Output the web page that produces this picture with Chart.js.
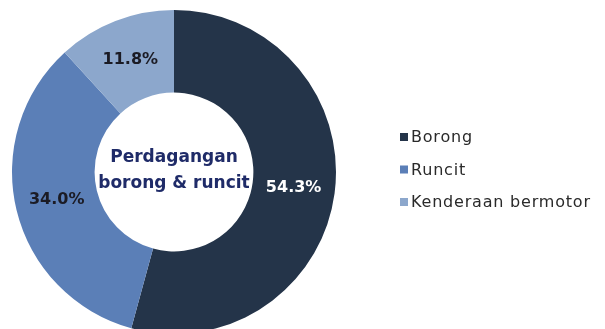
<!DOCTYPE html>
<html>
<head>
<meta charset="utf-8">
<script src="https://cdn.jsdelivr.net/npm/chart.js@4/dist/chart.umd.min.js"></script>
<style>
  html, body { margin: 0; padding: 0; background: #fff; overflow: hidden; }
  #wrap { width: 605px; height: 345px; position: relative; }
</style>
</head>
<body>
<div id="wrap"><canvas id="sectorChart"></canvas></div>
<script>
// Share of wholesale & retail trade by sub-sector (%)
const sectors = ['Borong', 'Runcit', 'Kenderaan bermotor'];
const shares = [54.3, 34.0, 11.8];
const sectorColors = ['#243449', '#5b7fb7', '#8ca7cc'];
const labelColors = ['#ffffff', '#1b1b24', '#1b1b24'];
const centerLines = ['Perdagangan', 'borong & runcit'];

// percentage text on each ring segment
const segmentLabels = {
  id: 'segmentLabels',
  afterDatasetsDraw(chart) {
    const ctx = chart.ctx;
    const meta = chart.getDatasetMeta(0);
    ctx.save();
    ctx.font = 'bold 16px "DejaVu Sans"';
    ctx.textAlign = 'center';
    ctx.textBaseline = 'middle';
    meta.data.forEach((arc, i) => {
      const pos = arc.tooltipPosition();
      ctx.fillStyle = labelColors[i];
      ctx.fillText(shares[i].toFixed(1) + '%', pos.x, pos.y);
    });
    ctx.restore();
  }
};

// title inside the hole
const centerText = {
  id: 'centerText',
  afterDatasetsDraw(chart) {
    const ctx = chart.ctx;
    const arc = chart.getDatasetMeta(0).data[0];
    ctx.save();
    ctx.font = 'bold 17px "DejaVu Sans"';
    ctx.fillStyle = '#1f2b68';
    ctx.textAlign = 'center';
    ctx.textBaseline = 'middle';
    ctx.fillText(centerLines[0], arc.x, arc.y - 14);
    ctx.fillText(centerLines[1], arc.x, arc.y + 12);
    ctx.restore();
  }
};

// square-marker legend to the right of the ring
const sideLegend = {
  id: 'sideLegend',
  afterDraw(chart) {
    const ctx = chart.ctx;
    const x = 400, y0 = 137, step = 32.5;
    ctx.save();
    ctx.font = '16px "DejaVu Sans"';
    ctx.letterSpacing = '0.8px';
    ctx.textBaseline = 'middle';
    sectors.forEach((name, i) => {
      const y = y0 + i * step;
      ctx.fillStyle = sectorColors[i];
      ctx.fillRect(x, y - 4, 8, 8);
      ctx.fillStyle = '#2a2a2a';
      ctx.fillText(name, x + 11, y + 1);
    });
    ctx.restore();
  }
};

new Chart(document.getElementById('sectorChart'), {
  type: 'doughnut',
  data: {
    labels: sectors,
    datasets: [{
      data: shares,
      backgroundColor: sectorColors,
      borderWidth: 0
    }]
  },
  options: {
    responsive: true,
    maintainAspectRatio: false,
    animation: false,
    events: [],
    cutout: '49%',
    layout: { padding: { left: 12, top: 10, right: 269, bottom: 11 } },
    plugins: {
      legend: { display: false },
      tooltip: { enabled: false }
    }
  },
  plugins: [segmentLabels, centerText, sideLegend]
});
</script>
</body>
</html>
